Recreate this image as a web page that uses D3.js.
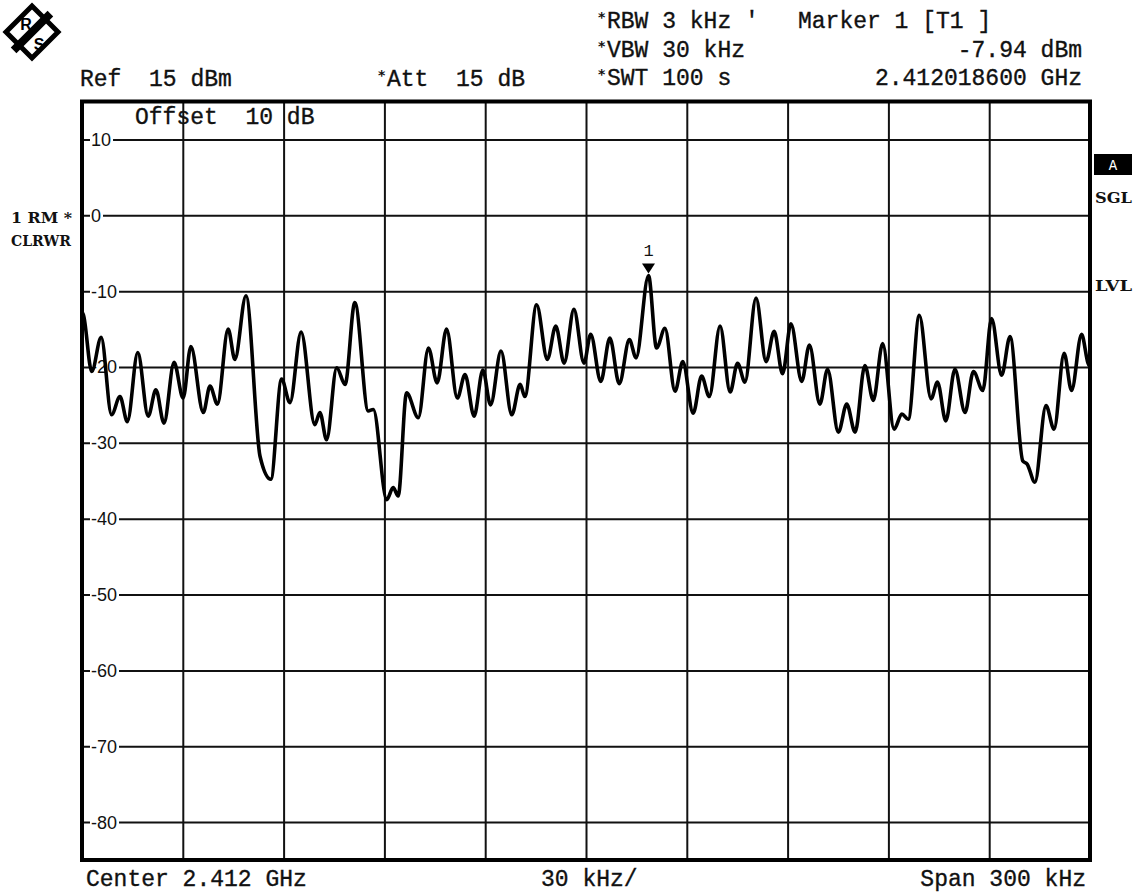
<!DOCTYPE html>
<html>
<head>
<meta charset="utf-8">
<script src="https://cdnjs.cloudflare.com/ajax/libs/d3/7.8.5/d3.min.js"></script>
<style>
  body { margin: 0; background: #fff; }
  svg { display: block; }
  .mono { font-family: "Liberation Mono", "DejaVu Sans Mono", monospace; font-size: 23px; fill: #111; stroke: #111; stroke-width: 0.35px; }
  .star { font-family: "DejaVu Sans", sans-serif; font-size: 14px; font-weight: bold; fill: #111; }
  .side { font-family: "DejaVu Serif", "Liberation Serif", serif; font-size: 15px; font-weight: bold; fill: #111; }
  .level-label { font-family: "Liberation Sans", Arial, sans-serif; font-size: 18px; fill: #111; }
  .grid line { stroke: #111; stroke-width: 2px; }
  .grid path { display: none; }
</style>
</head>
<body>
<div id="chart"></div>
<script>
// trace: offset from centre (kHz) and level (dBm)
const freqOffsetKHz = [
  -150, -149.6, -147.1, -144.3, -141.2, -138.7, -136.5, -133.4, -130.3, -128.0, -125.6,
  -122.6, -119.9, -117.6, -113.9, -111.9, -109.7, -106.5, -104.5, -101.2, -97.0,
  -93.8, -90.6, -88.1, -84.8, -80.7, -79.2, -77.2, -74.2, -71.7, -68.8,
  -64.8, -63.3, -59.3, -57.4, -55.9, -53.4, -49.9, -46.9, -44.3, -41.5,
  -38.3, -36.0, -33.3, -30.7, -28.4, -25.3, -22.1, -19.6, -18.2, -14.7,
  -11.5, -9.0, -6.5, -3.6, -0.6, 1.4, 4.4, 7.1, 9.9, 12.9,
  14.9, 18.6, 21.0, 23.5, 26.5, 28.8, 31.9, 34.4, 36.7, 39.9,
  42.9, 45.1, 47.3, 50.6, 53.6, 56.0, 58.5, 61.0, 64.2, 66.5,
  69.6, 71.9, 75.1, 77.6, 80.1, 83.0, 85.5, 88.3, 91.7, 94.0,
  95.9, 99.2, 102.7, 104.6, 107.1, 109.8, 112.8, 115.3, 118.1, 120.7,
  123.7, 126.2, 130.0, 131.3, 133.6, 136.9, 139.3, 142.3, 144.5, 147.5,
  149.4, 150
];
const levelDbm = [
  -12.8, -13.1, -20.6, -16.1, -26.3, -23.9, -27.2, -18.1, -26.5, -23.0, -27.4,
  -19.4, -24.1, -17.3, -26.0, -22.5, -24.9, -15.0, -19.0, -10.6, -31.8,
  -34.8, -21.6, -24.7, -15.4, -27.6, -26.0, -29.6, -20.1, -22.3, -11.5,
  -25.8, -25.6, -37.5, -35.9, -37.0, -23.4, -26.7, -17.5, -22.1, -15.0,
  -24.1, -21.0, -26.5, -20.4, -25.0, -17.9, -26.3, -22.3, -23.9, -11.8,
  -19.0, -14.6, -19.5, -12.4, -19.5, -15.7, -21.9, -16.2, -22.2, -16.4,
  -18.8, -7.94, -17.5, -14.9, -23.2, -19.3, -26.1, -21.2, -23.9, -14.6,
  -23.3, -19.5, -22.0, -10.9, -19.3, -15.3, -20.9, -14.3, -21.9, -17.1,
  -24.9, -20.3, -28.6, -24.9, -28.6, -19.8, -24.4, -16.9, -28.2, -26.2,
  -26.9, -13.2, -24.2, -22.0, -27.1, -20.3, -26.0, -20.6, -23.1, -13.6,
  -21.1, -16.0, -32.4, -32.8, -35.2, -25.1, -28.2, -18.2, -23.1, -15.7,
  -19.5, -20.0
];

const levelTicks = [10, 0, -10, -20, -30, -40, -50, -60, -70, -80];
const freqTicks = [-150, -120, -90, -60, -30, 0, 30, 60, 90, 120, 150];
const levelDomain = [15, -85];
const freqDomain = [-150, 150];

const markerOffset = 18.6;
const markerLevel = -7.94;

const headerLeft = [
  { star: false, text: 'Ref  15 dBm', x: 80, y: 86 },
  { star: true, text: 'Att  15 dB', x: 378, y: 86 },
  { star: true, text: "RBW 3 kHz '", x: 598, y: 28 },
  { star: true, text: 'VBW 30 kHz', x: 598, y: 57 },
  { star: true, text: 'SWT 100 s', x: 598, y: 85 },
  { star: false, text: 'Marker 1 [T1 ]', x: 798, y: 28 }
];
const headerRight = [
  { text: '-7.94 dBm', x: 1082, y: 57 },
  { text: '2.412018600 GHz', x: 1082, y: 85 }
];

class SpectrumPlot {
  constructor(_config) {
    this.config = {
      parentElement: _config.parentElement,
      containerWidth: _config.containerWidth || 1138,
      containerHeight: _config.containerHeight || 893,
      margin: { top: 101.5, bottom: 33, right: 48, left: 82 }
    };
    this.initVis();
  }

  initVis() {
    let vis = this;

    vis.width = vis.config.containerWidth - vis.config.margin.left - vis.config.margin.right;
    vis.height = vis.config.containerHeight - vis.config.margin.top - vis.config.margin.bottom;

    vis.xScale = d3.scaleLinear().domain(freqDomain).range([0, vis.width]);
    vis.yScale = d3.scaleLinear().domain(levelDomain).range([0, vis.height]);

    vis.svg = d3.select(vis.config.parentElement).append('svg')
      .attr('width', vis.config.containerWidth)
      .attr('height', vis.config.containerHeight);

    vis.chart = vis.svg.append('g')
      .attr('transform', `translate(${vis.config.margin.left},${vis.config.margin.top})`);

    vis.renderVis();
  }

  renderVis() {
    let vis = this;

    // grid from axes with full-length ticks
    vis.chart.append('g')
      .attr('class', 'grid')
      .call(d3.axisLeft(vis.yScale).tickValues(levelTicks).tickSize(-vis.width).tickFormat(''));

    vis.chart.append('g')
      .attr('class', 'grid')
      .attr('transform', `translate(0,${vis.height})`)
      .call(d3.axisBottom(vis.xScale).tickValues(freqTicks).tickSize(vis.height).tickFormat(''))
      .selectAll('line').attr('y2', -vis.height);

    // level labels sit on the grid lines with a white gap
    let labels = vis.chart.append('g').selectAll('g')
      .data(levelTicks)
      .enter().append('g')
      .attr('transform', d => `translate(9,${vis.yScale(d)})`);

    labels.append('text')
      .attr('class', 'level-label')
      .attr('dy', '0.36em')
      .text(d => String(d));

    labels.insert('rect', 'text')
      .each(function() {
        let bb = this.parentNode.querySelector('text').getBBox();
        d3.select(this)
          .attr('x', bb.x - 1).attr('y', -7)
          .attr('width', bb.width + 3).attr('height', 14)
          .attr('fill', '#fff');
      });

    vis.chart.append('text')
      .attr('class', 'mono')
      .attr('x', 53).attr('y', 22)
      .attr('xml:space', 'preserve')
      .text('Offset  10 dB');

    // trace
    let line = d3.line()
      .x((d, i) => vis.xScale(freqOffsetKHz[i]))
      .y(d => vis.yScale(d))
      .curve(d3.curveMonotoneX);

    vis.chart.append('path')
      .datum(levelDbm)
      .attr('fill', 'none')
      .attr('stroke', '#000')
      .attr('stroke-width', 3.6)
      .attr('stroke-linejoin', 'round')
      .attr('d', line);

    // marker
    let mx = vis.xScale(markerOffset);
    let my = vis.yScale(markerLevel) - 2;
    vis.chart.append('path')
      .attr('d', `M${mx - 6.5},${my - 10}L${mx + 6.5},${my - 10}L${mx},${my}Z`)
      .attr('fill', '#000');
    vis.chart.append('text')
      .attr('x', mx).attr('y', my - 17)
      .attr('text-anchor', 'middle')
      .style('font-family', '"Liberation Mono", monospace')
      .style('font-size', '17px')
      .attr('fill', '#111')
      .text('1');

    // frame
    vis.chart.append('rect')
      .attr('width', vis.width).attr('height', vis.height)
      .attr('fill', 'none').attr('stroke', '#000').attr('stroke-width', 4);

    vis.renderText();
  }

  renderText() {
    let vis = this;

    let hl = vis.svg.append('g').selectAll('g')
      .data(headerLeft)
      .enter().append('g');
    hl.filter(d => d.star).append('text')
      .attr('class', 'star')
      .attr('x', d => d.x).attr('y', d => d.y - 6)
      .text('*');
    hl.append('text')
      .attr('class', 'mono')
      .attr('xml:space', 'preserve')
      .attr('x', d => d.star ? d.x + 9 : d.x)
      .attr('y', d => d.y)
      .text(d => d.text);

    vis.svg.append('g').selectAll('text')
      .data(headerRight)
      .enter().append('text')
      .attr('class', 'mono')
      .attr('text-anchor', 'end')
      .attr('x', d => d.x).attr('y', d => d.y)
      .text(d => d.text);

    let footer = [
      { text: 'Center 2.412 GHz', x: 86, anchor: 'start' },
      { text: '30 kHz/', x: 541, anchor: 'start' },
      { text: 'Span 300 kHz', x: 1086, anchor: 'end' }
    ];
    vis.svg.append('g').selectAll('text')
      .data(footer)
      .enter().append('text')
      .attr('class', 'mono')
      .attr('text-anchor', d => d.anchor)
      .attr('x', d => d.x).attr('y', 886)
      .text(d => d.text);

    // side annotations
    let side = [
      { text: '1 RM *', x: 11, y: 223, len: 61 },
      { text: 'CLRWR', x: 11, y: 246, len: 60 },
      { text: 'SGL', x: 1095, y: 203, len: 37 },
      { text: 'LVL', x: 1095, y: 291, len: 37 }
    ];
    vis.svg.append('g').selectAll('text')
      .data(side)
      .enter().append('text')
      .attr('class', 'side')
      .attr('x', d => d.x).attr('y', d => d.y)
      .attr('textLength', d => d.len)
      .attr('lengthAdjust', 'spacingAndGlyphs')
      .attr('xml:space', 'preserve')
      .text(d => d.text);

    vis.svg.append('rect')
      .attr('x', 1094).attr('y', 154).attr('width', 38).attr('height', 21)
      .attr('fill', '#000');
    vis.svg.append('text')
      .attr('x', 1113).attr('y', 170)
      .attr('text-anchor', 'middle')
      .style('font-family', '"Liberation Mono", monospace')
      .style('font-size', '14px')
      .attr('fill', '#fff')
      .text('A');

    // R&S logo
    let logo = vis.svg.append('g').attr('transform', 'translate(32,32)');
    logo.append('path')
      .attr('d', 'M0,-26L26,0L0,26L-26,0Z')
      .attr('fill', '#fff').attr('stroke', '#000').attr('stroke-width', 5)
      .attr('stroke-linejoin', 'miter');
    logo.append('rect')
      .attr('x', -26).attr('y', -4).attr('width', 52).attr('height', 8)
      .attr('transform', 'rotate(-45)')
      .attr('fill', '#000');
    logo.append('text')
      .attr('x', -6).attr('y', -2)
      .attr('text-anchor', 'middle')
      .style('font-family', '"Liberation Sans", sans-serif')
      .style('font-size', '16px')
      .style('font-weight', 'bold')
      .attr('fill', '#000')
      .text('R');
    logo.append('text')
      .attr('x', 7).attr('y', 18)
      .attr('text-anchor', 'middle')
      .style('font-family', '"Liberation Sans", sans-serif')
      .style('font-size', '16px')
      .style('font-weight', 'bold')
      .attr('fill', '#000')
      .text('S');
  }
}

new SpectrumPlot({ parentElement: '#chart' });
</script>
</body>
</html>
